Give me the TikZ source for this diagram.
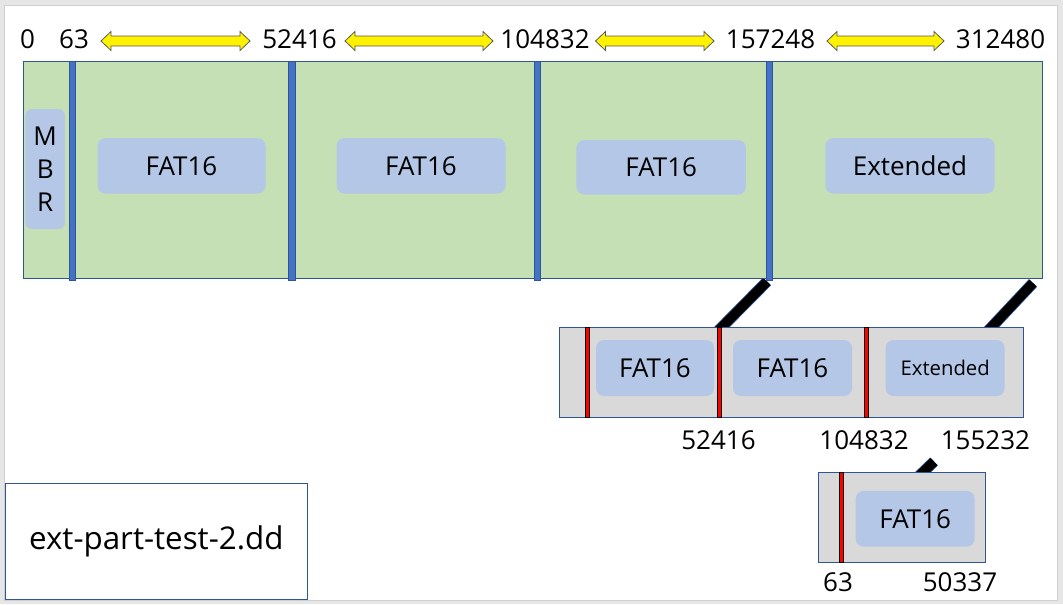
\documentclass[tikz,border=0pt]{standalone}
\usepackage{fontspec}
\setmainfont{Open Sans}
\definecolor{pgreen}{HTML}{C5E0B4}
\definecolor{pbox}{HTML}{B4C7E7}
\definecolor{sepblue}{HTML}{4472C4}
\definecolor{edgeblue}{HTML}{2F5597}
\definecolor{bargray}{HTML}{D9D9D9}
\definecolor{bggray}{HTML}{E6E6E6}
\definecolor{framegray}{HTML}{D0D0D0}
\definecolor{arrowedge}{HTML}{5A5A5A}
\def\pxs{0.75pt}
\newcommand{\numfont}{\fontsize{19.5}{23}\selectfont}
\newcommand{\boxfont}{\fontsize{19.5}{24.75}\selectfont}
\newcommand{\smallfont}{\fontsize{15.2}{18}\selectfont}
\newcommand{\yarrow}[3]{%
  \draw[yarr] (#2,41) -- (#2+10,31.5) -- (#2+10,36) -- (#3-10,36) -- (#3-10,31.5)
    -- (#3,41) -- (#3-10,50.5) -- (#3-10,46) -- (#2+10,46) -- (#2+10,50.5) -- cycle;
  \coordinate (#1) at ({(#2+#3)/2},41);}
\begin{document}
\begin{tikzpicture}[x=0.75pt,y=-0.75pt,
  bar/.style={draw=edgeblue, line width=0.75pt, inner sep=0pt},
  bsep/.style={draw=edgeblue, line width=0.4pt, fill=sepblue, inner sep=0pt,
    minimum width=6.5*\pxs, minimum height=219*\pxs},
  rsep/.style={draw=black, line width=0.5pt, fill=red, inner sep=0pt,
    minimum width=4.5*\pxs, minimum height=90*\pxs},
  pbx/.style={fill=pbox, rounded corners=6pt, inner sep=0pt, font=\boxfont},
  lbl/.style={anchor=base, inner sep=0pt, font=\numfont},
  yarr/.style={fill=yellow, draw=arrowedge, line width=0.6pt, line join=miter},
  conn/.style={line width=7.2pt, draw=black, line cap=butt,
    preaction={draw=edgeblue, line width=8.4pt}}
]
\useasboundingbox (0,0) rectangle (1063,604);
\fill[bggray] (0,0) rectangle (1063,604);
\draw[fill=white, draw=framegray, line width=0.75pt] (4,5) rectangle (1057.5,600);

% top scale
\node[lbl] (l0) at (27.5,48.3) {0};
\node[lbl] (l63) at (74,48.3) {63};
\node[lbl] (l52416) at (299.5,48.3) {52416};
\node[lbl] (l104832) at (545,48.3) {104832};
\node[lbl] (l157248) at (770.5,48.3) {157248};
\node[lbl] (l312480) at (1000.5,48.3) {312480};
\yarrow{a1}{101}{250}
\yarrow{a2}{345}{493}
\yarrow{a3}{595.5}{714}
\yarrow{a4}{827}{944}

% connectors (drawn first, bars cover their lower ends)
\coordinate (c1a) at (767,281.5);
\coordinate (c1b) at (716,333);
\coordinate (c2a) at (1033,283);
\coordinate (c2b) at (986,333);
\coordinate (c3a) at (934,461.5);
\coordinate (c3b) at (918,477);
\draw[conn] (c1a) -- (c1b);
\draw[conn] (c2a) -- (c2b);
\draw[conn] (c3a) -- (c3b);

% main bar
\node[bar, fill=pgreen, minimum width=1019*\pxs, minimum height=217*\pxs] (main) at (532.5,169.5) {};
\node[bsep] (s1) at (72.3,170.5) {};
\node[bsep] (s2) at (292,170.5) {};
\node[bsep] (s3) at (537.5,170.5) {};
\node[bsep] (s4) at (769.5,170.5) {};
\node[pbx, minimum width=39.5*\pxs, minimum height=120*\pxs, rounded corners=5pt, align=center] (mbr) at (45.2,169) {M\\B\\R};
\node[pbx, minimum width=168*\pxs, minimum height=55.5*\pxs] (p1) at (181.5,165.8) {FAT16};
\node[pbx, minimum width=169*\pxs, minimum height=55.5*\pxs] (p2) at (421,165.8) {FAT16};
\node[pbx, minimum width=169.5*\pxs, minimum height=54.5*\pxs] (p3) at (661.2,167.3) {FAT16};
\node[pbx, minimum width=169.3*\pxs, minimum height=55.5*\pxs] (p4) at (910,165.8) {Extended};

% second bar
\node[bar, fill=bargray, minimum width=464*\pxs, minimum height=90*\pxs] (ext) at (791.3,372.3) {};
\node[rsep] (r1) at (587.5,372.3) {};
\node[rsep] (r2) at (719.3,372.3) {};
\node[rsep] (r3) at (866.3,372.3) {};
\node[pbx, minimum width=118*\pxs, minimum height=56*\pxs] (e1) at (655,368) {FAT16};
\node[pbx, minimum width=119*\pxs, minimum height=56*\pxs] (e2) at (792.5,368) {FAT16};
\node[pbx, minimum width=119*\pxs, minimum height=56*\pxs, font=\smallfont] (e3) at (945.2,368) {Extended};
\node[lbl] (m52416) at (718.5,449) {52416};
\node[lbl] (m104832) at (864,449) {104832};
\node[lbl] (m155232) at (985.4,449) {155232};

% third bar
\node[bar, fill=bargray, minimum width=166.6*\pxs, minimum height=90.3*\pxs] (ext2) at (902,517.2) {};
\node[rsep, minimum height=90.3*\pxs, minimum width=4.3*\pxs] (r4) at (841,517.2) {};
\node[pbx, minimum width=119*\pxs, minimum height=55.7*\pxs] (f1) at (915.2,518.8) {FAT16};
\node[lbl] (b63) at (838,591.7) {63};
\node[lbl] (b50337) at (960,591.7) {50337};

% file name box
\node[bar, fill=white, minimum width=302*\pxs, minimum height=115.7*\pxs,
  font=\fontsize{23.5}{28}\selectfont] (fname) at (156.3,541.2) {ext-part-test-2.dd};
\end{tikzpicture}
\end{document}
